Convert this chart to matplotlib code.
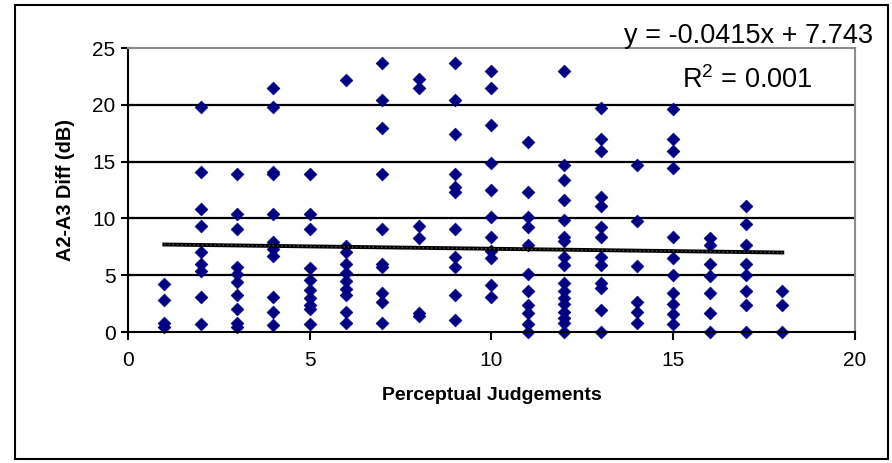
import matplotlib
matplotlib.use('Agg')
import matplotlib.pyplot as plt
from matplotlib.patches import Rectangle
import numpy as np

plt.rcParams['font.family'] = ['Liberation Sans', 'DejaVu Sans']

# perceptual judgement -> measured A2-A3 differences (dB)
judgements = list(range(1, 19))
diffs_by_judgement = [
    [4.2, 2.8, 0.8, 0.4],
    [19.8, 14.1, 10.8, 9.3, 7.0, 6.0, 5.4, 3.1, 0.7],
    [13.9, 10.4, 9.1, 5.7, 5.1, 4.4, 3.3, 2.0, 0.8, 0.4],
    [21.5, 19.8, 14.1, 13.9, 10.4, 7.9, 7.3, 6.7, 3.1, 1.8, 0.6],
    [13.9, 10.4, 9.1, 5.6, 4.6, 3.7, 3.0, 2.4, 2.0, 0.7],
    [22.2, 7.6, 7.0, 6.0, 5.2, 4.5, 3.8, 3.3, 1.8, 0.8],
    [23.7, 20.4, 18.0, 13.9, 9.1, 6.0, 5.7, 3.4, 2.6, 0.8],
    [22.3, 21.5, 9.3, 8.3, 1.7, 1.4],
    [23.7, 20.4, 17.4, 13.9, 12.8, 12.3, 9.1, 6.6, 5.7, 3.3, 1.1],
    [23.0, 21.5, 18.2, 14.9, 12.5, 10.1, 8.4, 7.1, 6.5, 4.1, 3.1],
    [16.7, 12.3, 10.1, 9.2, 7.7, 5.1, 3.6, 2.4, 1.7, 0.7, 0.0],
    [23.0, 14.7, 13.4, 11.6, 9.9, 8.4, 8.0, 6.6, 5.9, 4.3, 3.6, 3.0, 2.5, 1.8, 1.2, 0.8, 0.0],
    [19.7, 17.0, 15.9, 11.9, 11.1, 9.2, 8.4, 6.6, 5.9, 4.3, 3.9, 1.9, 0.0],
    [14.7, 9.8, 5.8, 2.6, 1.8, 0.8],
    [19.6, 17.0, 15.9, 14.4, 8.4, 6.5, 5.0, 3.4, 2.5, 1.6, 0.7],
    [8.3, 7.7, 6.0, 4.9, 3.4, 1.7, 0.0],
    [11.1, 9.5, 7.7, 6.0, 5.0, 3.6, 2.4, 0.0],
    [3.6, 2.4, 0.0],
]
slope = -0.0415
intercept = 7.743
r_squared = 0.001

xs, ys = [], []
for j, vals in zip(judgements, diffs_by_judgement):
    xs.extend([j] * len(vals))
    ys.extend(vals)

fig = plt.figure(figsize=(8.92, 4.63), dpi=100)
ax = fig.add_axes([128 / 892, 1 - 332 / 463, (855 - 128) / 892, (332 - 48) / 463])

# outer chart frame
fig.patches.append(Rectangle((15 / 892, 1 - 459 / 463), (888 - 15) / 892, (459 - 5) / 463,
                             transform=fig.transFigure, fill=False, edgecolor='black',
                             linewidth=1.5, zorder=0))

ax.set_xlim(0, 20)
ax.set_ylim(0, 25)
ax.set_xticks([0, 5, 10, 15, 20])
ax.set_yticks([0, 5, 10, 15, 20, 25])

for yv in [5, 10, 15, 20]:
    ax.axhline(yv, color='black', linewidth=1.6, zorder=1)

ax.scatter(xs, ys, marker='D', s=42, color='#000080', edgecolors='#000080',
           linewidths=0.5, zorder=3, clip_on=False)

tx = np.array([judgements[0], judgements[-1]])
ax.plot(tx, slope * tx + intercept, color='black', linewidth=2.8, zorder=4)
ax.plot(tx, slope * tx + intercept, color='#555555', linewidth=1.0,
        linestyle=(0, (1, 2)), zorder=4)

for side in ['top', 'right']:
    ax.spines[side].set_color('#8c8c8c')
    ax.spines[side].set_linewidth(1.5)
for side in ['left', 'bottom']:
    ax.spines[side].set_color('black')
    ax.spines[side].set_linewidth(1.5)
ax.spines['bottom'].set_zorder(5)

ax.tick_params(axis='y', direction='inout', length=10, width=1.5, labelsize=15, pad=4)
ax.tick_params(axis='x', direction='out', length=6, width=1.5, labelsize=15, pad=8)

ax.set_xlabel('Perceptual Judgements', fontsize=14, fontweight='bold', labelpad=12)
ax.set_ylabel('A2-A3 Diff (dB)', fontsize=14.3, fontweight='bold', labelpad=12)

fig.text(873 / 892, 1 - 43 / 463, 'y = -0.0415x + 7.743', fontsize=19.5,
         ha='right', va='baseline')
fig.text(813 / 892, 1 - 88 / 463, '$\\mathregular{R^2}$ = 0.001', fontsize=19.5,
         ha='right', va='baseline')

fig.savefig('out.png', dpi=100)
